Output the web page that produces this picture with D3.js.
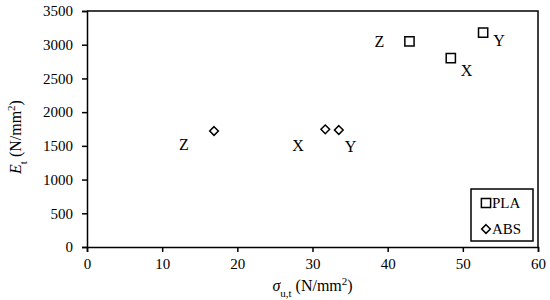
<!DOCTYPE html>
<html>
<head>
<meta charset="utf-8">
<script src="https://cdn.jsdelivr.net/npm/d3@7"></script>
<style>
body { margin: 0; background: #fff; }
svg text { font-family: "Liberation Serif", "Times New Roman", serif; fill: #000; }
</style>
</head>
<body>
<svg id="chart" width="550" height="300"></svg>
<script>
// data
var plaStrength = [42.9, 48.4, 52.7];
var plaModulus = [3050, 2800, 3180];
var plaLabels = ['Z', 'X', 'Y'];
var absStrength = [16.9, 31.7, 33.5];
var absModulus = [1720, 1745, 1735];
var absLabels = ['Z', 'X', 'Y'];
var xTicks = [0, 10, 20, 30, 40, 50, 60];
var yTicks = [0, 500, 1000, 1500, 2000, 2500, 3000, 3500];

var margin = {left: 87, right: 12, top: 11, bottom: 53};
var width = 550, height = 300;

var svg = d3.select("#chart");
var x = d3.scaleLinear().domain([0, 60]).range([margin.left, width - margin.right]);
var y = d3.scaleLinear().domain([0, 3500]).range([height - margin.bottom, margin.top]);

// frame (top and right)
svg.append("path")
	.attr("d", "M" + x(0) + "," + y(3500) + "H" + x(60) + "V" + y(0))
	.attr("fill", "none").attr("stroke", "#000").attr("stroke-width", 1.5);

var xAxis = svg.append("g").attr("transform", "translate(0," + y(0) + ")")
	.call(d3.axisBottom(x).tickValues(xTicks).tickSize(5).tickPadding(6));
var yAxis = svg.append("g").attr("transform", "translate(" + x(0) + ",0)")
	.call(d3.axisLeft(y).tickValues(yTicks).tickSize(5).tickPadding(9).tickFormat(d3.format("d")));

[xAxis, yAxis].forEach(function(a) {
	a.attr("font-family", null).attr("font-size", null);
	a.select(".domain").attr("stroke-width", 1.5);
	a.selectAll(".tick line").attr("stroke-width", 1.5);
	a.selectAll(".tick text")
		.style("font-family", "'Liberation Serif', serif")
		.style("font-size", "15px");
});

// axis titles
var yt = svg.append("text").attr("transform", "translate(21,137) rotate(-90)")
	.attr("text-anchor", "middle").style("font-size", "16px");
yt.append("tspan").attr("font-style", "italic").text("E");
yt.append("tspan").attr("baseline-shift", "sub").style("font-size", "11px").text("t");
yt.append("tspan").text(" (N/mm");
yt.append("tspan").attr("baseline-shift", "super").style("font-size", "11px").text("2");
yt.append("tspan").text(")");

var xt = svg.append("text").attr("x", (x(0) + x(60)) / 2).attr("y", 291)
	.attr("text-anchor", "middle").style("font-size", "16px");
xt.append("tspan").attr("font-style", "italic").text("σ");
xt.append("tspan").attr("baseline-shift", "sub").style("font-size", "11px").text("u,t");
xt.append("tspan").text(" (N/mm");
xt.append("tspan").attr("baseline-shift", "super").style("font-size", "11px").text("2");
xt.append("tspan").text(")");

var square = d3.symbol().type(d3.symbolSquare).size(85);
var diamond = d3.symbol().type(d3.symbolDiamond2).size(48);

var plaData = plaStrength.map(function(v, i) { return {x: v, y: plaModulus[i], label: plaLabels[i]}; });
var absData = absStrength.map(function(v, i) { return {x: v, y: absModulus[i], label: absLabels[i]}; });

// label offsets in px, per point
var plaOffsets = [[-35, 6], [10, 18], [10, 13]];
var absOffsets = [[-35, 19], [-33, 22], [6, 22]];

function drawSeries(data, sym, offsets) {
	var g = svg.append("g");
	g.selectAll("path").data(data).enter().append("path")
		.attr("d", sym)
		.attr("transform", function(d) { return "translate(" + x(d.x) + "," + y(d.y) + ")"; })
		.attr("fill", "#fff").attr("stroke", "#000").attr("stroke-width", 1.5);
	g.selectAll("text").data(data).enter().append("text")
		.attr("x", function(d, i) { return x(d.x) + offsets[i][0]; })
		.attr("y", function(d, i) { return y(d.y) + offsets[i][1]; })
		.style("font-size", "16px")
		.text(function(d) { return d.label; });
}
drawSeries(plaData, square, plaOffsets);
drawSeries(absData, diamond, absOffsets);

// legend
var lg = svg.append("g").attr("transform", "translate(471,189)");
lg.append("rect").attr("width", 62).attr("height", 52)
	.attr("fill", "#fff").attr("stroke", "#000").attr("stroke-width", 1.5);
var items = [{name: "PLA", sym: square}, {name: "ABS", sym: diamond}];
items.forEach(function(it, i) {
	var cy = 14 + i * 26;
	lg.append("path").attr("d", it.sym).attr("transform", "translate(15," + cy + ")")
		.attr("fill", "#fff").attr("stroke", "#000").attr("stroke-width", 1.5);
	lg.append("text").attr("x", 21).attr("y", cy + 5).style("font-size", "15px").text(it.name);
});
</script>
</body>
</html>
